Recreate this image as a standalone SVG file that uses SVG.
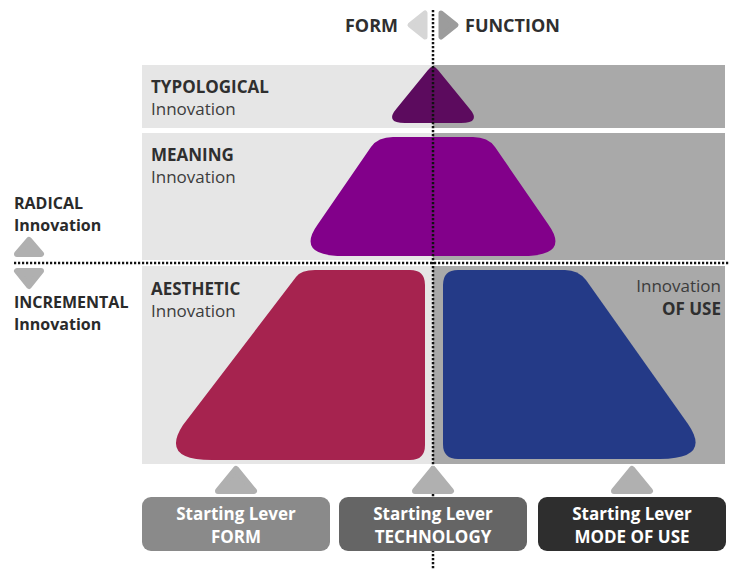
<svg xmlns="http://www.w3.org/2000/svg" width="732" height="572" viewBox="0 0 732 572">
<style>
.b{font-family:"Open Sans","Liberation Sans",sans-serif;font-weight:bold;font-size:17px;fill:#2f2f2f}
.r{font-family:"Open Sans","Liberation Sans",sans-serif;font-size:17px;fill:#3c3c3c}
.s{font-family:"Open Sans","Liberation Sans",sans-serif;font-weight:bold;font-size:16px;fill:#2a2a2a}
.w{font-family:"Open Sans","Liberation Sans",sans-serif;font-weight:bold;font-size:17px;fill:#ffffff;text-anchor:middle}
.lt{fill:#e6e6e6}
.dk{fill:#a9a9a9}
.arr{fill:#b0b0b0;stroke:#b0b0b0;stroke-width:6;stroke-linejoin:round}
.dot{stroke:#111;stroke-width:2.5;stroke-dasharray:2.2 1.8;fill:none}
</style>
<rect width="732" height="572" fill="#ffffff"/>
<g id="panels">
<rect class="lt" x="142" y="65" width="291" height="63"/>
<rect class="dk" x="433" y="65" width="292" height="63"/>
<rect class="lt" x="142" y="133" width="291" height="127"/>
<rect class="dk" x="433" y="133" width="292" height="127"/>
<rect class="lt" x="142" y="266" width="291" height="198"/>
<rect class="dk" x="433" y="266" width="292" height="198"/>
</g>
<g id="typological">
<path d="M428,70 Q433,63 438,70 L469,108 Q482,123 461,123 L405,123 Q384,123 397,108 Z" fill="#5c0b5e"/>
<text class="b" x="151" y="93">TYPOLOGICAL</text>
<text class="r" x="151" y="115">Innovation</text>
</g>
<g id="meaning">
<path d="M371,147 Q378,137 393,137 L473,137 Q488,137 495,147 L548,224 Q571,256 523,256 L343,256 Q295,256 318,224 Z" fill="#82008a"/>
<text class="b" x="151" y="161">MEANING</text>
<text class="r" x="151" y="183">Innovation</text>
</g>
<g id="aesthetic">
<path d="M296,277 Q301,270 315,270 L410,270 Q425,270 425,285 L425,445 Q425,460 410,460 L212,460 Q160,460 183,425 Z" fill="#a6234f"/>
<text class="b" x="151" y="295">AESTHETIC</text>
<text class="r" x="151" y="317">Innovation</text>
</g>
<g id="use">
<path d="M458,270 L565,270 Q578,270 586,280 L688,424 Q712,459 660,459 L458,459 Q443,459 443,444 L443,285 Q443,270 458,270 Z" fill="#243a87"/>
<text class="r" x="721" y="292" text-anchor="end">Innovation</text>
<text class="b" x="721" y="315" text-anchor="end">OF USE</text>
</g>
<g id="connectors">
<line class="dot" x1="14" y1="263" x2="729" y2="263"/>
<line class="dot" x1="433" y1="10" x2="433" y2="570"/>
</g>
<g id="header">
<text class="b" x="398" y="32" text-anchor="end" style="font-size:18px">FORM</text>
<path d="M410,25 L425,13 L425,37 Z" fill="#d6d6d6" stroke="#d6d6d6" stroke-width="5" stroke-linejoin="round"/>
<path d="M441,13 L456,25 L441,37 Z" fill="#9c9c9c" stroke="#9c9c9c" stroke-width="5" stroke-linejoin="round"/>
<text class="b" x="465" y="32" style="font-size:18px">FUNCTION</text>
</g>
<g id="radical">
<text class="s" x="14" y="209">RADICAL</text>
<text class="s" x="14" y="231">Innovation</text>
<path class="arr" d="M29,240 L41,254 L17,254 Z"/>
</g>
<g id="incremental">
<path class="arr" d="M17,271 L41,271 L29,286 Z"/>
<text class="s" x="14" y="308">INCREMENTAL</text>
<text class="s" x="14" y="330">Innovation</text>
</g>
<g id="lever-form">
<path class="arr" d="M236,469 L254,491 L218,491 Z"/>
<rect x="142" y="497" width="188" height="54" rx="9" fill="#8a8a8a"/>
<text class="w" x="236" y="520">Starting Lever</text>
<text class="w" x="236" y="543">FORM</text>
</g>
<g id="lever-technology">
<path class="arr" d="M433,469 L451,491 L415,491 Z"/>
<rect x="339" y="497" width="188" height="54" rx="9" fill="#656565"/>
<text class="w" x="433" y="520">Starting Lever</text>
<text class="w" x="433" y="543">TECHNOLOGY</text>
</g>
<g id="lever-mode">
<path class="arr" d="M632,469 L650,491 L614,491 Z"/>
<rect x="538" y="497" width="188" height="54" rx="9" fill="#2e2e2e"/>
<text class="w" x="632" y="520">Starting Lever</text>
<text class="w" x="632" y="543">MODE OF USE</text>
</g>
</svg>
